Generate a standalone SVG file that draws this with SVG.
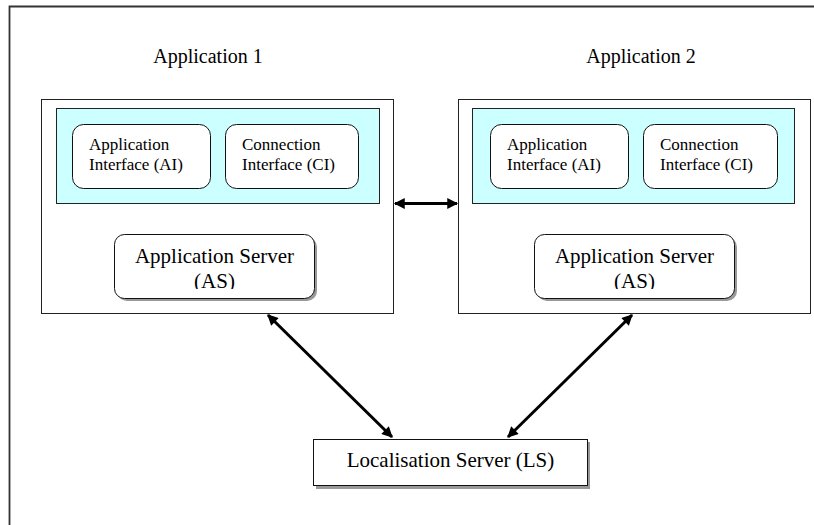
<svg xmlns="http://www.w3.org/2000/svg" width="814" height="525" viewBox="0 0 814 525">
<style>
  text { font-family: "Liberation Serif", "DejaVu Serif", "Times New Roman", Times, serif; fill: #000; }
  .title { font-size: 20px; text-anchor: middle; }
  .small { font-size: 17px; }
  .big { font-size: 21px; text-anchor: middle; }
  .app { fill: #fff; stroke: #222; stroke-width: 1; }
  .cyan { fill: #CCFFFF; stroke: #222; stroke-width: 1; }
  .rbox { fill: #fff; stroke: #111; stroke-width: 1; }
  .shadow { fill: #999; stroke: none; }
  .conn { stroke: #000; stroke-width: 3; fill: none; marker-start: url(#ah); marker-end: url(#ah); }
</style>
<defs>
  <marker id="ah" viewBox="0 0 10 10" refX="9" refY="5" markerWidth="4.4" markerHeight="3.6" orient="auto-start-reverse" markerUnits="strokeWidth">
    <path d="M0,0 L10,5 L0,10 z" fill="#000"/>
  </marker>
  <clipPath id="clipAS1"><rect x="100" y="240" width="230" height="49"/></clipPath>
  <clipPath id="clipAS2"><rect x="520" y="240" width="230" height="49"/></clipPath>
</defs>
<rect x="0" y="0" width="814" height="525" fill="#fff"/>
<path d="M9.5,525 V6.5 H814" fill="none" stroke="#333" stroke-width="1.8"/>

<g id="app1">
  <text class="title" x="208" y="63">Application 1</text>
  <rect class="app" x="41.5" y="99.5" width="352" height="214"/>
  <rect class="cyan" x="56.5" y="108.5" width="323" height="95"/>
  <g id="app1-ai">
    <rect class="rbox" x="72.5" y="124.5" width="138" height="64" rx="11"/>
    <text class="small" x="89" y="150">Application</text>
    <text class="small" x="89" y="170">Interface (AI)</text>
  </g>
  <g id="app1-ci">
    <rect class="rbox" x="225.5" y="124.5" width="133" height="64" rx="11"/>
    <text class="small" x="242" y="150">Connection</text>
    <text class="small" x="242" y="170">Interface (CI)</text>
  </g>
  <g id="app1-as">
    <rect class="shadow" x="117" y="237" width="200" height="64" rx="10"/>
    <rect class="rbox" x="114.5" y="234.5" width="200" height="64" rx="10"/>
    <text class="big" x="214.5" y="263">Application Server</text>
    <text class="big" x="214.5" y="288" clip-path="url(#clipAS1)">(AS)</text>
  </g>
</g>

<g id="app2">
  <text class="title" x="641" y="63">Application 2</text>
  <rect class="app" x="458.5" y="99.5" width="352" height="214"/>
  <rect class="cyan" x="472.5" y="108.5" width="322" height="95"/>
  <g id="app2-ai">
    <rect class="rbox" x="490.5" y="124.5" width="138" height="64" rx="11"/>
    <text class="small" x="507" y="150">Application</text>
    <text class="small" x="507" y="170">Interface (AI)</text>
  </g>
  <g id="app2-ci">
    <rect class="rbox" x="643.5" y="124.5" width="134" height="64" rx="11"/>
    <text class="small" x="660" y="150">Connection</text>
    <text class="small" x="660" y="170">Interface (CI)</text>
  </g>
  <g id="app2-as">
    <rect class="shadow" x="537" y="237" width="200" height="64" rx="10"/>
    <rect class="rbox" x="534.5" y="234.5" width="200" height="64" rx="10"/>
    <text class="big" x="634.5" y="263">Application Server</text>
    <text class="big" x="634.5" y="288" clip-path="url(#clipAS2)">(AS)</text>
  </g>
</g>

<g id="ls">
  <rect class="shadow" x="316" y="442" width="274" height="47"/>
  <rect class="rbox" x="313.5" y="439.5" width="274" height="46"/>
  <text class="big" x="450.5" y="467">Localisation Server (LS)</text>
</g>

<g id="connectors">
  <line class="conn" x1="395" y1="203.5" x2="457" y2="203.5"/>
  <line class="conn" x1="268" y1="315" x2="392" y2="437"/>
  <line class="conn" x1="632" y1="315" x2="508" y2="437"/>
</g>
</svg>
